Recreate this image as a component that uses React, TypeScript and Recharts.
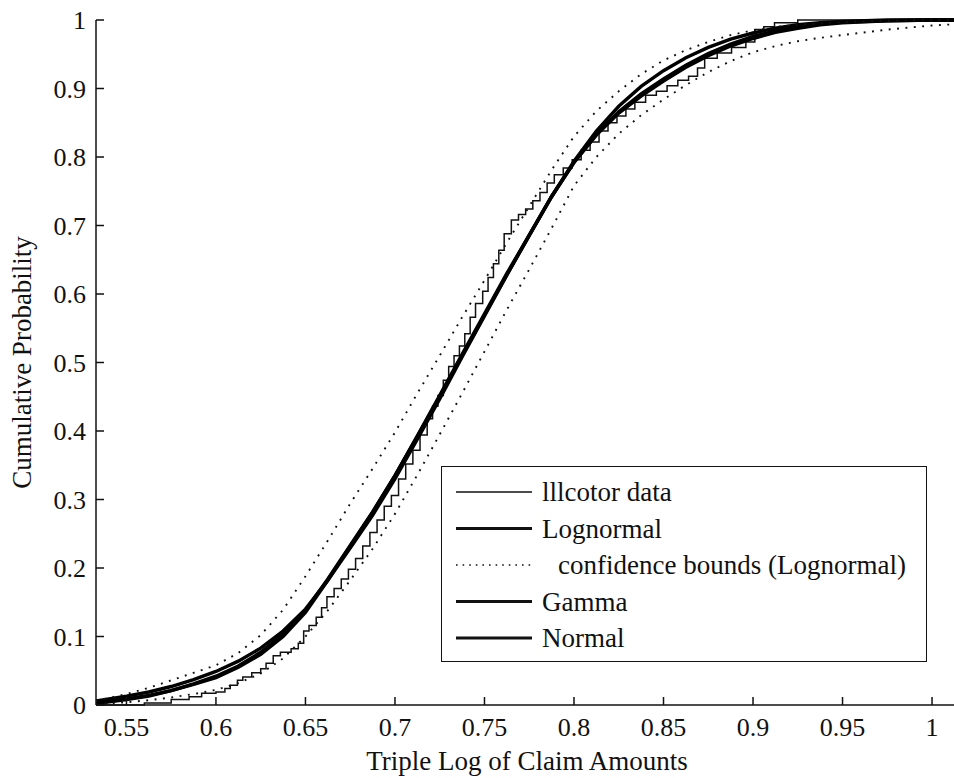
import React from "react";
import { LineChart, Line, XAxis, YAxis, Label } from "recharts";

// fitted CDFs on a common x grid
const fitX = [
  0.533, 0.55, 0.5625, 0.575, 0.5875, 0.6, 0.6125, 0.625, 0.6375, 0.65, 0.6625,
  0.675, 0.6875, 0.7, 0.7125, 0.725, 0.7375, 0.75, 0.7625, 0.775, 0.7875, 0.8,
  0.8125, 0.825, 0.8375, 0.85, 0.8625, 0.875, 0.8875, 0.9, 0.9125, 0.925,
  0.9375, 0.95, 0.975, 1.0, 1.0145,
];
const lognormalY = [
  0.003, 0.009, 0.014, 0.021, 0.03, 0.04, 0.055, 0.074, 0.1, 0.135, 0.182,
  0.232, 0.281, 0.335, 0.393, 0.452, 0.512, 0.571, 0.63, 0.686, 0.743, 0.792,
  0.832, 0.864, 0.889, 0.911, 0.931, 0.948, 0.962, 0.973, 0.982, 0.988, 0.993,
  0.996, 0.999, 1.0, 1.0,
];
const gammaY = [
  0.002, 0.008, 0.013, 0.021, 0.031, 0.042, 0.057, 0.077, 0.103, 0.138, 0.184,
  0.233, 0.282, 0.335, 0.392, 0.45, 0.51, 0.569, 0.628, 0.685, 0.742, 0.792,
  0.833, 0.866, 0.892, 0.914, 0.934, 0.951, 0.965, 0.976, 0.984, 0.99, 0.994,
  0.997, 0.999, 1.0, 1.0,
];
const normalY = [
  0.006, 0.013, 0.019, 0.027, 0.037, 0.049, 0.064, 0.083, 0.108, 0.14, 0.182,
  0.229, 0.277, 0.33, 0.388, 0.447, 0.508, 0.568, 0.628, 0.686, 0.742, 0.794,
  0.838, 0.874, 0.903, 0.926, 0.945, 0.96, 0.972, 0.981, 0.988, 0.993, 0.996,
  0.998, 1.0, 1.0, 1.0,
];
const upperY = [
  0.006, 0.016, 0.025, 0.036, 0.047, 0.058, 0.076, 0.102, 0.139, 0.188, 0.24,
  0.294, 0.345, 0.398, 0.455, 0.51, 0.566, 0.62, 0.675, 0.728, 0.781, 0.83,
  0.867, 0.896, 0.921, 0.941, 0.956, 0.968, 0.978, 0.985, 0.99, 0.993, 0.995,
  0.997, 0.999, 1.0, 1.0,
];
const lowerY = [
  0.001, 0.004, 0.007, 0.011, 0.016, 0.022, 0.032, 0.046, 0.068, 0.1, 0.138,
  0.182, 0.228, 0.279, 0.336, 0.395, 0.455, 0.516, 0.577, 0.636, 0.696, 0.758,
  0.8, 0.834, 0.861, 0.884, 0.905, 0.924, 0.94, 0.953, 0.962, 0.969, 0.974,
  0.978, 0.986, 0.992, 0.994,
];

// empirical CDF (step function)
const empX = [
  0.533, 0.56, 0.575, 0.585, 0.592, 0.6, 0.605, 0.608, 0.612, 0.615, 0.62,
  0.625, 0.628, 0.632, 0.636, 0.642, 0.646, 0.649, 0.652, 0.656, 0.659, 0.662,
  0.666, 0.67, 0.674, 0.678, 0.682, 0.686, 0.69, 0.694, 0.698, 0.702, 0.706,
  0.71, 0.714, 0.718, 0.721, 0.724, 0.727, 0.73, 0.733, 0.736, 0.739, 0.742,
  0.745, 0.749, 0.752, 0.755, 0.758, 0.761, 0.765, 0.769, 0.773, 0.777, 0.781,
  0.785, 0.789, 0.794, 0.799, 0.804, 0.809, 0.814, 0.819, 0.824, 0.829, 0.834,
  0.84, 0.846, 0.852, 0.858, 0.864, 0.869, 0.873, 0.88, 0.888, 0.896, 0.901,
  0.906, 0.912, 0.925, 1.0145,
];
const empY = [
  0.0, 0.003, 0.008, 0.012, 0.017, 0.019, 0.024, 0.029, 0.036, 0.041, 0.047,
  0.053, 0.061, 0.072, 0.077, 0.082, 0.09, 0.108, 0.116, 0.128, 0.142, 0.158,
  0.17, 0.184, 0.198, 0.214, 0.232, 0.252, 0.27, 0.29, 0.306, 0.33, 0.352,
  0.372, 0.394, 0.418, 0.436, 0.452, 0.474, 0.494, 0.51, 0.524, 0.542, 0.566,
  0.586, 0.604, 0.624, 0.644, 0.664, 0.688, 0.708, 0.716, 0.724, 0.736, 0.748,
  0.762, 0.774, 0.784, 0.796, 0.81, 0.822, 0.838, 0.85, 0.86, 0.87, 0.88,
  0.89, 0.896, 0.904, 0.912, 0.918, 0.93, 0.944, 0.952, 0.96, 0.968, 0.986,
  0.99, 0.996, 1.0, 1.0,
];

const xTicks = [0.55, 0.6, 0.65, 0.7, 0.75, 0.8, 0.85, 0.9, 0.95, 1];
const yTicks = [0, 0.1, 0.2, 0.3, 0.4, 0.5, 0.6, 0.7, 0.8, 0.9, 1];
const xDomain: [number, number] = [0.533, 1.0145];

const toRows = (xs: number[], ys: number[]) => xs.map((x, i) => ({ x, y: ys[i] }));

const empData = toRows(empX, empY);
const lognormalData = toRows(fitX, lognormalY);
const gammaData = toRows(fitX, gammaY);
const normalData = toRows(fitX, normalY);
const upperData = toRows(fitX, upperY);
const lowerData = toRows(fitX, lowerY);

const FONT = "'Liberation Serif', 'Times New Roman', 'DejaVu Serif', serif";
const txt = { fontFamily: FONT };
const INK = "#111";
const TICK = 8;
const FIT_W = 3.4;

const fmt = (v: number) => String(Number(v.toFixed(2)));

const BottomTick = (props: any) => {
  const { x, y, payload } = props;
  return (
    <g>
      <line x1={x} x2={x} y1={y} y2={y - TICK} stroke={INK} strokeWidth={1.5} />
      <text x={x} y={y + 31} textAnchor="middle" style={txt} fontSize={26} fill={INK}>
        {fmt(payload.value)}
      </text>
    </g>
  );
};

const TopTick = (props: any) => {
  const { x, y } = props;
  return <line x1={x} x2={x} y1={y} y2={y + TICK} stroke={INK} strokeWidth={1.5} />;
};

const LeftTick = (props: any) => {
  const { x, y, payload } = props;
  return (
    <g>
      <line x1={x} x2={x + TICK} y1={y} y2={y} stroke={INK} strokeWidth={1.5} />
      <text x={x - 10} y={y + 9} textAnchor="end" style={txt} fontSize={26} fill={INK}>
        {fmt(payload.value)}
      </text>
    </g>
  );
};

const RightTick = (props: any) => {
  const { x, y } = props;
  return <line x1={x} x2={x - TICK} y1={y} y2={y} stroke={INK} strokeWidth={1.5} />;
};

const legendRows = [
  { name: "lllcotor data", width: 1.5, dash: undefined, indent: 0 },
  { name: "Lognormal", width: 3.2, dash: undefined, indent: 0 },
  { name: "confidence bounds (Lognormal)", width: 1.6, dash: "1.6 5", indent: 16 },
  { name: "Gamma", width: 3.2, dash: undefined, indent: 0 },
  { name: "Normal", width: 3.2, dash: undefined, indent: 0 },
];

const LegendBox = () => (
  <div
    style={{
      position: "absolute",
      left: 441,
      top: 466,
      width: 486,
      height: 196,
      boxSizing: "border-box",
      border: `1.5px solid ${INK}`,
      background: "#fff",
    }}
  >
    <svg width={483} height={193}>
      {legendRows.map((r, i) => {
        const cy = 25 + i * 36.5;
        return (
          <g key={r.name}>
            <line
              x1={14}
              x2={90}
              y1={cy}
              y2={cy}
              stroke={INK}
              strokeWidth={r.width}
              strokeDasharray={r.dash}
            />
            <text x={100 + r.indent} y={cy + 9} style={txt} fontSize={27} fill={INK}>
              {r.name}
            </text>
          </g>
        );
      })}
    </svg>
  </div>
);

export default function App() {
  return (
    <div
      style={{
        position: "absolute",
        left: 0,
        top: 0,
        width: 954,
        height: 778,
        overflow: "hidden",
        background: "#fff",
        fontFamily: FONT,
      }}
    >
      <LineChart width={970} height={778} margin={{ top: 20, right: 12, bottom: 0, left: 0 }}>
        <XAxis
          xAxisId={0}
          type="number"
          dataKey="x"
          domain={xDomain}
          allowDataOverflow
          ticks={xTicks}
          interval={0}
          height={73}
          tickSize={0}
          tickMargin={0}
          tick={<BottomTick />}
          axisLine={{ stroke: INK, strokeWidth: 1.5 }}
        >
          <Label
            content={(p: any) => {
              const vb = p.viewBox || { x: 96, y: 705, width: 862 };
              return (
                <text
                  x={vb.x + vb.width / 2}
                  y={vb.y + 65}
                  textAnchor="middle"
                  style={txt}
                  fontSize={27}
                  fill={INK}
                >
                  Triple Log of Claim Amounts
                </text>
              );
            }}
          />
        </XAxis>
        <XAxis
          xAxisId="top"
          orientation="top"
          type="number"
          dataKey="x"
          domain={xDomain}
          allowDataOverflow
          ticks={xTicks}
          interval={0}
          height={0}
          tickSize={0}
          tickMargin={0}
          tick={<TopTick />}
          axisLine={{ stroke: INK, strokeWidth: 1.5 }}
        />
        <YAxis
          yAxisId={0}
          type="number"
          domain={[0, 1]}
          ticks={yTicks}
          interval={0}
          width={96}
          tickSize={0}
          tickMargin={0}
          tick={<LeftTick />}
          axisLine={{ stroke: INK, strokeWidth: 1.5 }}
        >
          <Label
            content={(p: any) => {
              const vb = p.viewBox || { x: 0, y: 20, height: 685 };
              const cx = 31;
              const cy = vb.y + vb.height / 2;
              return (
                <text
                  x={cx}
                  y={cy}
                  transform={`rotate(-90 ${cx} ${cy})`}
                  textAnchor="middle"
                  style={txt}
                  fontSize={27}
                  fill={INK}
                >
                  Cumulative Probability
                </text>
              );
            }}
          />
        </YAxis>
        <YAxis
          yAxisId="right"
          orientation="right"
          type="number"
          domain={[0, 1]}
          ticks={yTicks}
          interval={0}
          width={0}
          tickSize={0}
          tickMargin={0}
          tick={<RightTick />}
          axisLine={false}
        />

        {/* invisible series so the top / right frame axes get drawn */}
        <Line
          data={lognormalData}
          dataKey="y"
          xAxisId="top"
          yAxisId="right"
          stroke="none"
          dot={false}
          isAnimationActive={false}
          legendType="none"
        />
        <Line
          data={empData}
          dataKey="y"
          type="stepAfter"
          stroke={INK}
          strokeWidth={1.5}
          dot={false}
          isAnimationActive={false}
        />
        <Line
          data={normalData}
          dataKey="y"
          type="linear"
          stroke="#000"
          strokeWidth={FIT_W}
          dot={false}
          isAnimationActive={false}
        />
        <Line
          data={gammaData}
          dataKey="y"
          type="linear"
          stroke="#000"
          strokeWidth={FIT_W}
          dot={false}
          isAnimationActive={false}
        />
        <Line
          data={lognormalData}
          dataKey="y"
          type="linear"
          stroke="#000"
          strokeWidth={FIT_W}
          dot={false}
          isAnimationActive={false}
        />
        <Line
          data={upperData}
          dataKey="y"
          type="linear"
          stroke={INK}
          strokeWidth={1.9}
          strokeDasharray="1.9 6.5"
          dot={false}
          isAnimationActive={false}
        />
        <Line
          data={lowerData}
          dataKey="y"
          type="linear"
          stroke={INK}
          strokeWidth={1.9}
          strokeDasharray="1.9 6.5"
          dot={false}
          isAnimationActive={false}
        />
      </LineChart>
      <LegendBox />
    </div>
  );
}
